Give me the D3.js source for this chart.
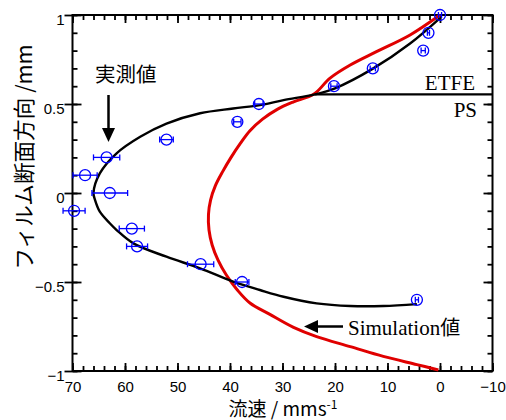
<!DOCTYPE html>
<html>
<head>
<meta charset="utf-8">
<script src="https://cdn.jsdelivr.net/npm/d3@7"></script>
<style>
  html, body { margin: 0; padding: 0; background: #fff; }
  svg { display: block; }
</style>
</head>
<body>
<div id="chart"></div>
<script>
// ---- data ----
const xMajorTicks = [70, 60, 50, 40, 30, 20, 10, 0, -10];
const yMajorTicks = [1, 0.5, 0, -0.5, -1];

// measured values (circles with horizontal error bars)
const measX   = [0.0, 2.2, 3.2, 12.8, 20.2, 34.5, 38.6, 52.1, 63.5, 67.6, 62.9, 69.7, 58.7, 57.7, 45.6, 37.7, 4.4];
const measY   = [1.0, 0.9, 0.8, 0.7, 0.6, 0.5, 0.4, 0.3, 0.2, 0.1, 0.0, -0.1, -0.2, -0.3, -0.4, -0.5, -0.6];
const measErr = [0.3, 0.2, 0.4, 0.5, 0.6, 0.8, 0.7, 1.3, 2.5, 2.3, 3.4, 2.1, 2.4, 2.0, 2.5, 1.3, 0.3];

// black fitted curve of the measurement
const expX = [0.0, 5.7, 12.7, 20.0, 23.8, 29.8, 34.3, 39.4, 45.7, 52.1, 57.1, 61.6, 64.8, 66.0,
              65.7, 64.8, 62.9, 61.6, 58.4, 52.1, 45.7, 39.4, 34.3, 29.8, 23.5, 17.1, 10.8, 4.4];
const expY = [0.983, 0.84, 0.70, 0.588, 0.554, 0.522, 0.494, 0.475, 0.448, 0.39, 0.316, 0.223, 0.11, 0.0,
              -0.04, -0.105, -0.17, -0.208, -0.283, -0.358, -0.423, -0.498, -0.545, -0.583, -0.62, -0.635, -0.635, -0.624];

// red simulation curve
const simX = [0.0, 5.7, 12.1, 17.1, 21.0, 24.0, 28.0, 31.0, 33.8, 36.2, 38.0, 39.8, 41.4, 42.8, 43.7, 44.1,
              44.0, 43.4, 42.3, 40.7, 38.6, 36.2, 32.4, 27.9, 23.5, 17.1, 10.8, 4.4, 0.3];
const simY = [1.0, 0.888, 0.794, 0.719, 0.644, 0.556, 0.511, 0.470, 0.415, 0.35, 0.28, 0.2, 0.12, 0.04, -0.04, -0.12,
              -0.208, -0.292, -0.376, -0.461, -0.545, -0.618, -0.682, -0.755, -0.807, -0.863, -0.918, -0.964, -0.994];

// ETFE / PS interface
const interfaceX = [23.8, -10];
const interfaceY = 0.554;

// ---- layout ----
const W = 506, H = 420;
const L = 72.5, R = 492.5, T = 15, B = 371;
const x = d3.scaleLinear().domain([70, -10]).range([L, R]);
const y = d3.scaleLinear().domain([1, -1]).range([T, B]);

const svg = d3.select("#chart").append("svg").attr("width", W).attr("height", H);

const minorX = d3.range(70, -10.001, -2);
const minorY = d3.range(-1, 1.0001, 0.1).map(v => +v.toFixed(2));

function styleAxis(g) {
  g.select(".domain").remove();
  g.selectAll(".tick line").attr("stroke", "#000").attr("stroke-width", 1.8);
  g.selectAll(".tick text").attr("fill", "#000")
    .style("font-family", "'Liberation Sans', Arial, sans-serif").style("font-size", "15px");
}

// bottom axis
svg.append("g").attr("transform", `translate(0,${B})`)
  .call(d3.axisBottom(x).tickValues(minorX).tickSizeInner(-5).tickSizeOuter(0).tickFormat(""))
  .call(styleAxis);
svg.append("g").attr("transform", `translate(0,${B})`)
  .call(d3.axisBottom(x).tickValues(xMajorTicks).tickSizeInner(-8).tickSizeOuter(0).tickPadding(10).tickFormat(d3.format("d")))
  .call(styleAxis);
// top axis
svg.append("g").attr("transform", `translate(0,${T})`)
  .call(d3.axisTop(x).tickValues(minorX).tickSizeInner(-5).tickSizeOuter(0).tickFormat(""))
  .call(styleAxis);
svg.append("g").attr("transform", `translate(0,${T})`)
  .call(d3.axisTop(x).tickValues(xMajorTicks).tickSizeInner(-8).tickSizeOuter(0).tickFormat(""))
  .call(styleAxis);
// left axis
svg.append("g").attr("transform", `translate(${L},0)`)
  .call(d3.axisLeft(y).tickValues(minorY).tickSizeInner(-5).tickSizeOuter(0).tickFormat(""))
  .call(styleAxis);
svg.append("g").attr("transform", `translate(${L},0)`)
  .call(d3.axisLeft(y).tickValues(yMajorTicks).tickSizeInner(-9).tickSizeOuter(0).tickFormat(""))
  .call(styleAxis);
const yl = svg.append("g").attr("transform", `translate(${L},0)`)
  .call(d3.axisLeft(y).tickValues(yMajorTicks).tickSizeInner(8).tickSizeOuter(0).tickPadding(0).tickFormat(d => d3.format("")(d)))
  .call(styleAxis);
yl.selectAll(".tick text").attr("dy", "0.62em");
// right axis
svg.append("g").attr("transform", `translate(${R},0)`)
  .call(d3.axisRight(y).tickValues(minorY).tickSizeInner(-5).tickSizeOuter(0).tickFormat(""))
  .call(styleAxis);
svg.append("g").attr("transform", `translate(${R},0)`)
  .call(d3.axisRight(y).tickValues(yMajorTicks).tickSizeInner(-9).tickSizeOuter(0).tickFormat(""))
  .call(styleAxis);

// frame
svg.append("rect").attr("x", L).attr("y", T).attr("width", R - L).attr("height", B - T)
  .attr("fill", "none").attr("stroke", "#000").attr("stroke-width", 2);

// curves
const line = d3.line().x(d => x(d[0])).y(d => y(d[1])).curve(d3.curveCatmullRom.alpha(0.5));
svg.append("path").datum(simX.map((v, i) => [v, simY[i]]))
  .attr("d", line).attr("fill", "none").attr("stroke", "#e00000").attr("stroke-width", 3);
svg.append("path").datum(expX.map((v, i) => [v, expY[i]]))
  .attr("d", line).attr("fill", "none").attr("stroke", "#000").attr("stroke-width", 2.4);
svg.append("line")
  .attr("x1", x(interfaceX[0])).attr("x2", x(interfaceX[1]))
  .attr("y1", y(interfaceY)).attr("y2", y(interfaceY))
  .attr("stroke", "#000").attr("stroke-width", 2.4);

// measured points
const blue = "#0000ff";
const pts = svg.append("g").selectAll("g").data(measX.map((v, i) => ({ x: v, y: measY[i], e: measErr[i] })))
  .join("g");
pts.append("line").attr("x1", d => x(d.x + d.e)).attr("x2", d => x(d.x - d.e))
  .attr("y1", d => y(d.y)).attr("y2", d => y(d.y)).attr("stroke", blue).attr("stroke-width", 1.3);
pts.append("line").attr("x1", d => x(d.x + d.e)).attr("x2", d => x(d.x + d.e))
  .attr("y1", d => y(d.y) - 3).attr("y2", d => y(d.y) + 3).attr("stroke", blue).attr("stroke-width", 1.3);
pts.append("line").attr("x1", d => x(d.x - d.e)).attr("x2", d => x(d.x - d.e))
  .attr("y1", d => y(d.y) - 3).attr("y2", d => y(d.y) + 3).attr("stroke", blue).attr("stroke-width", 1.3);
pts.append("circle").attr("cx", d => x(d.x)).attr("cy", d => y(d.y)).attr("r", 5.5)
  .attr("fill", "none").attr("stroke", blue).attr("stroke-width", 1.3);

// region labels
const serif = "'Liberation Serif', 'Times New Roman', serif";
const cjk = "'Noto Sans CJK JP', 'Noto Sans', sans-serif";
svg.append("text").attr("x", 475).attr("y", 90).attr("text-anchor", "end")
  .style("font-family", serif).style("font-size", "21px").text("ETFE");
svg.append("text").attr("x", 477).attr("y", 117).attr("text-anchor", "end")
  .style("font-family", serif).style("font-size", "21px").text("PS");

// annotation: 実測値
svg.append("text").attr("x", 95).attr("y", 82)
  .style("font-family", cjk).style("font-size", "20.5px").text("実測値");
svg.append("line").attr("x1", 108.5).attr("x2", 108.5).attr("y1", 95).attr("y2", 129)
  .attr("stroke", "#000").attr("stroke-width", 2.5);
svg.append("path").attr("d", "M102,128 L115,128 L108.5,142 Z").attr("fill", "#000");

// annotation: Simulation値
const st = svg.append("text").attr("x", 348).attr("y", 335).style("font-size", "21px");
st.append("tspan").style("font-family", serif).text("Simulation");
st.append("tspan").style("font-family", cjk).style("font-size", "20px").text("値");
svg.append("line").attr("x1", 343).attr("x2", 316).attr("y1", 326.5).attr("y2", 326.5)
  .attr("stroke", "#000").attr("stroke-width", 2.5);
svg.append("path").attr("d", "M318,320 L318,333 L304,326.5 Z").attr("fill", "#000");

// axis titles
svg.append("text").attr("transform", "translate(32,157) rotate(-90)").attr("text-anchor", "middle")
  .style("font-family", cjk).style("font-size", "21.6px")
  .text("フィルム断面方向 /mm");
const xt = svg.append("text").attr("x", 283).attr("y", 416).attr("text-anchor", "middle")
  .style("font-family", cjk).style("font-size", "19px");
xt.append("tspan").text("流速 / mms");
xt.append("tspan").attr("dy", "-7").style("font-size", "12px").text("-1");
</script>
</body>
</html>
